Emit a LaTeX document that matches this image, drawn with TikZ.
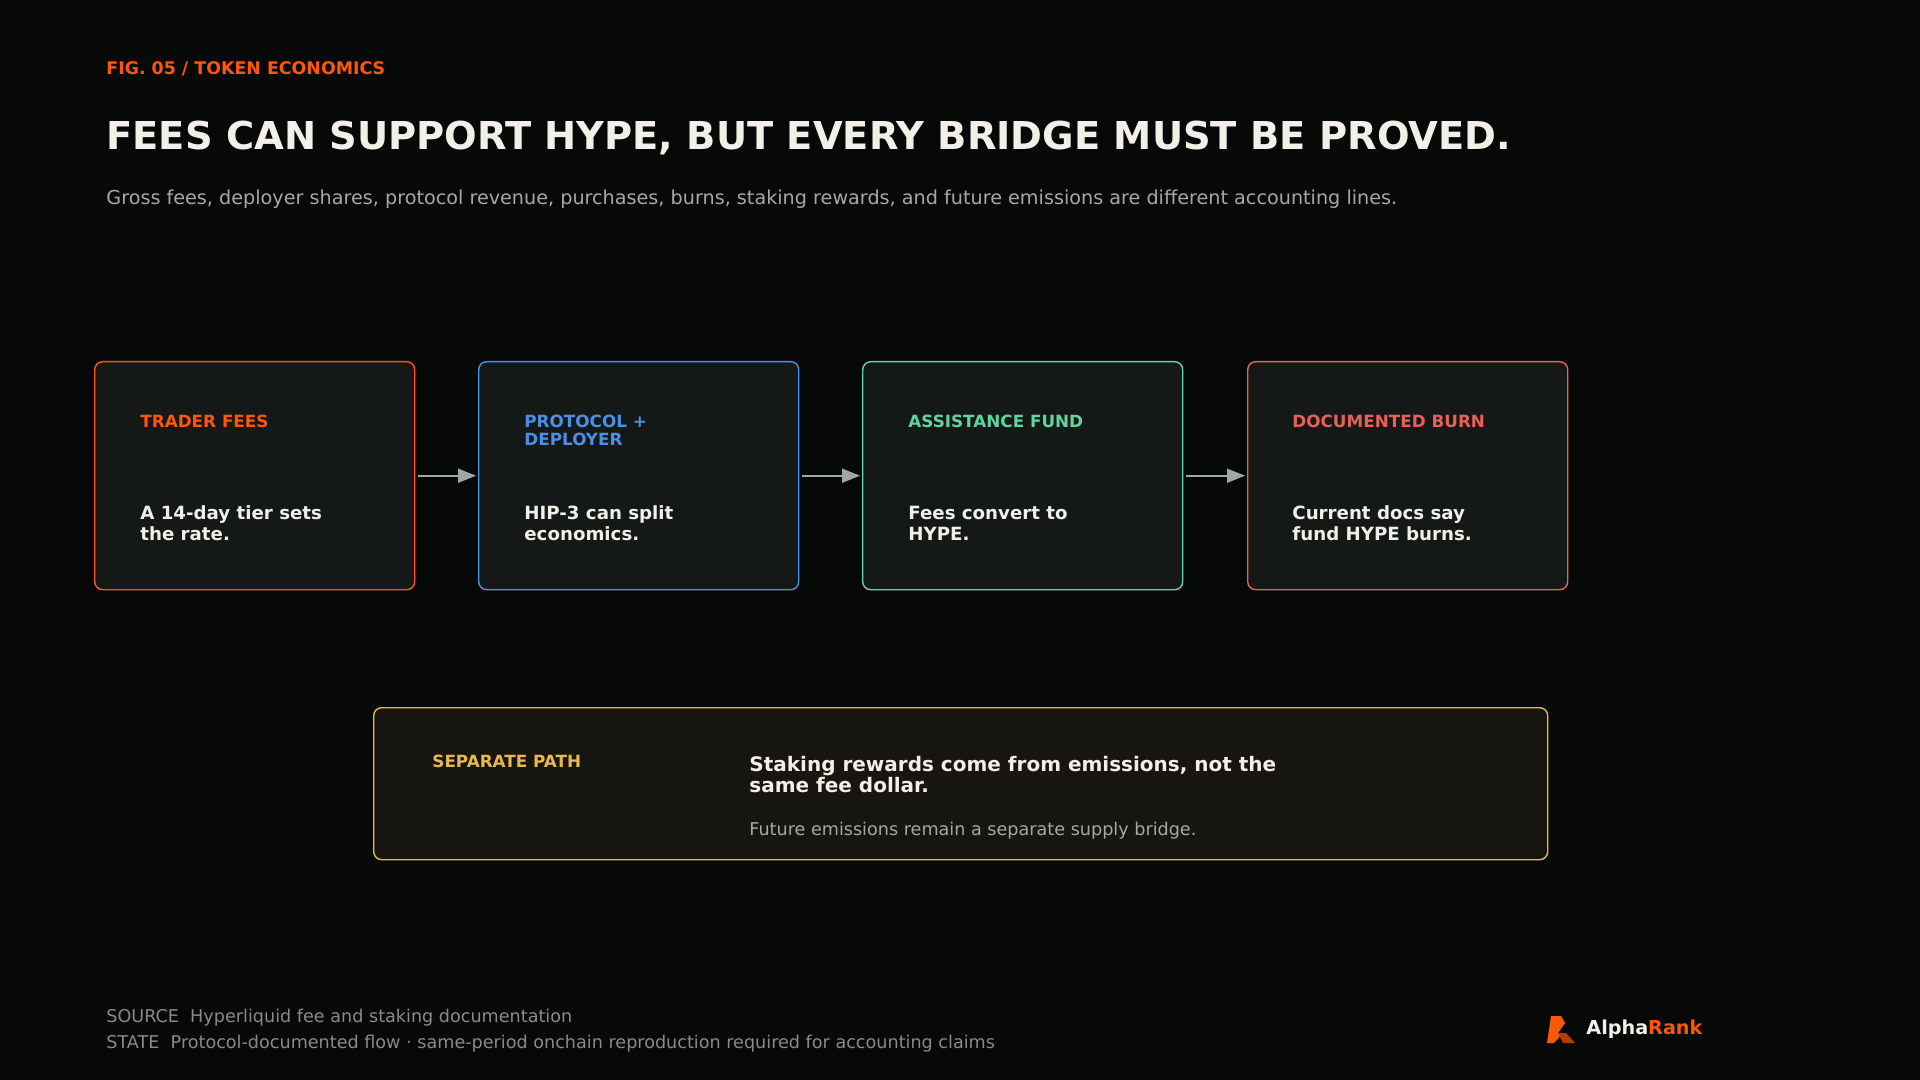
\documentclass[tikz,border=0pt]{standalone}
\usepackage{fontspec}
\setmainfont{DejaVu Sans}
\usetikzlibrary{arrows.meta, positioning}
\definecolor{bgc}{HTML}{070908}
\definecolor{boxc}{HTML}{141816}
\definecolor{sepc}{HTML}{16150F}
\definecolor{orangec}{HTML}{FF560A}
\definecolor{bluec}{HTML}{4A8FE8}
\definecolor{greenc}{HTML}{5FD49E}
\definecolor{redc}{HTML}{E8605A}
\definecolor{yellowc}{HTML}{E8B84E}
\definecolor{whitec}{HTML}{F2EFE8}
\definecolor{grayc}{HTML}{A8A8A2}
\definecolor{footc}{HTML}{8A8A86}
\definecolor{arrowc}{HTML}{A0A8A4}

\begin{document}
\begin{tikzpicture}[
    x=0.5pt, y=-0.5pt,
    % Styles
    card/.style={rectangle, rounded corners=4pt, line width=0.7pt, fill=boxc, minimum width=160pt, minimum height=114pt, anchor=north west, inner sep=0pt},
    tag/.style={anchor=west, font=\bfseries\fontsize{8.4}{9}\selectfont, align=left, inner sep=0pt},
    body/.style={anchor=west, font=\bfseries\fontsize{9.1}{10.5}\selectfont, text=whitec, align=left, inner sep=0pt},
    arrow/.style={-{Triangle[length=9pt,width=7pt]}, draw=arrowc, line width=0.8pt, shorten <=1.5pt, shorten >=1pt},
    plain/.style={anchor=west, inner sep=0pt},
]
\fill[bgc] (0,0) rectangle (1920,1080);
\useasboundingbox (0,0) rectangle (1920,1080);

% ===== HEADER =====
\node[plain, font=\bfseries\fontsize{8.7}{10}\selectfont, text=orangec] (fig) at (106,69) {FIG. 05 / TOKEN ECONOMICS};
\node[plain, font=\bfseries\fontsize{19.2}{22}\selectfont, text=whitec] (title) at (106,138) {FEES CAN SUPPORT HYPE, BUT EVERY BRIDGE MUST BE PROVED.};
\node[plain, font=\fontsize{9.6}{11}\selectfont, text=grayc] (subtitle) at (106,199) {Gross fees, deployer shares, protocol revenue, purchases, burns, staking rewards, and future emissions are different accounting lines.};

% ===== FLOW =====
\node[card, draw=orangec] (fees) at (94,361) {};
\node[card, draw=bluec] (proto) at (478,361) {};
\node[card, draw=greenc] (fund) at (862,361) {};
\node[card, draw=redc] (burn) at (1247,361) {};

\node[tag, text=orangec] at (140,421) {TRADER FEES};
\node[tag, text=bluec] at (524,430) {PROTOCOL +\\DEPLOYER};
\node[tag, text=greenc] at (908,421) {ASSISTANCE FUND};
\node[tag, text=redc] at (1292,421) {DOCUMENTED BURN};

\node[body] at (140,523) {A 14-day tier sets\\the rate.};
\node[body] at (524,523) {HIP-3 can split\\economics.};
\node[body] at (908,523) {Fees convert to\\HYPE.};
\node[body] at (1292,523) {Current docs say\\fund HYPE burns.};

\draw[arrow] (fees.east) -- (proto.west);
\draw[arrow] (proto.east) -- (fund.west);
\draw[arrow] (fund.east) -- (burn.west);

% ===== SEPARATE PATH =====
\node[card, draw=yellowc, fill=sepc, minimum width=587pt, minimum height=76pt] (sep) at (373,707) {};
\node[tag, text=yellowc] at (432,761) {SEPARATE PATH};
\node[body, font=\bfseries\fontsize{10}{10.5}\selectfont] at (749,775) {Staking rewards come from emissions, not the\\same fee dollar.};
\node[plain, font=\fontsize{8.8}{10}\selectfont, text=grayc] at (749,831) {Future emissions remain a separate supply bridge.};

% ===== FOOTER =====
\node[plain, font=\fontsize{8.8}{10}\selectfont, text=footc] (source) at (106,1018) {SOURCE\ \ Hyperliquid fee and staking documentation};
\node[plain, font=\fontsize{8.8}{10}\selectfont, text=footc] (state) at (106,1044) {STATE\ \ Protocol-documented flow · same-period onchain reproduction required for accounting claims};

% logo
\fill[orangec] (1551,1016) -- (1561,1016) -- (1565,1023) -- (1558,1033) -- (1563,1033) -- (1554,1043) -- (1547,1043) -- cycle;
\fill[orangec!70!black] (1558,1033) -- (1566,1033) -- (1575,1043) -- (1563,1043) -- cycle;
\node[plain, font=\bfseries\fontsize{9.6}{11}\selectfont] (logo) at (1586,1029) {\textcolor{whitec}{Alpha}\textcolor{orangec}{Rank}};
\end{tikzpicture}
\end{document}
